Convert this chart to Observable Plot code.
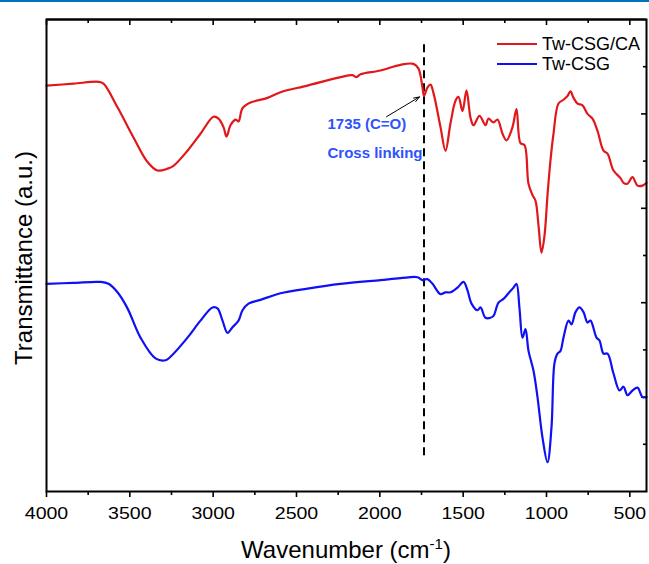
<!DOCTYPE html>
<html><head><meta charset="utf-8">
<script src="https://cdn.jsdelivr.net/npm/d3@7"></script>
<script src="https://cdn.jsdelivr.net/npm/@observablehq/plot@0.6"></script>
<style>
body{margin:0;background:#fff;font-family:"Liberation Sans",Arial,sans-serif;}
</style></head><body>
<script>
// Tw-CSG/CA (red)
const caWn=[4000,3838,3688,3658,3574,3478,3394,3334,3274,3238,3154,3076,2998,2968,2938,2920,2896,2866,2848,2824,2776,2674,2596,2434,2236,2164,2140,2116,1996,1876,1798,1768,1744,1735,1714,1696,1678,1636,1606,1576,1546,1528,1504,1480,1456,1438,1402,1366,1348,1318,1294,1264,1240,1204,1180,1156,1132,1108,1084,1066,1048,1030,1012,994,976,958,928,898,874,856,838,814,784,754,724,694,658,634,598,556,538,514,484,454,424,400];
const caT=[4.30,4.32,4.34,4.32,4.07,3.75,3.49,3.40,3.42,3.45,3.61,3.79,3.97,3.95,3.86,3.76,3.88,3.94,3.92,4.06,4.12,4.17,4.23,4.30,4.39,4.41,4.39,4.42,4.46,4.52,4.53,4.48,4.28,4.19,4.28,4.31,4.22,3.86,3.61,3.90,4.14,4.18,4.03,4.25,3.96,3.88,3.98,3.88,3.95,3.91,3.94,3.79,3.72,3.86,4.05,3.69,3.67,3.26,3.14,3.08,2.82,2.53,2.71,3.14,3.51,3.79,4.11,4.15,4.19,4.24,4.17,4.11,4.09,4.00,3.95,3.82,3.61,3.58,3.40,3.32,3.27,3.26,3.33,3.24,3.24,3.27];
// Tw-CSG (blue)
const csgWn=[4000,3838,3676,3628,3574,3514,3436,3346,3286,3238,3154,3076,3004,2974,2944,2914,2884,2848,2824,2788,2716,2596,2434,2236,1996,1876,1774,1744,1714,1684,1636,1606,1576,1534,1498,1474,1450,1414,1396,1366,1336,1318,1288,1258,1228,1198,1180,1162,1144,1126,1108,1078,1054,1024,994,970,952,934,916,898,868,850,826,802,778,754,736,700,682,658,634,598,562,538,514,484,454,424,400];
const csgT=[2.20,2.21,2.22,2.20,2.11,1.94,1.63,1.41,1.39,1.46,1.63,1.81,1.95,1.94,1.81,1.68,1.74,1.81,1.92,1.99,2.03,2.10,2.15,2.20,2.24,2.26,2.27,2.24,2.25,2.20,2.09,2.11,2.11,2.16,2.22,2.13,1.99,1.92,1.95,1.84,1.84,1.86,2.00,2.04,2.10,2.16,2.20,1.94,1.63,1.72,1.49,1.28,1.00,0.57,0.31,0.68,1.36,1.46,1.49,1.63,1.81,1.77,1.90,1.95,1.90,1.79,1.81,1.63,1.60,1.46,1.46,1.25,1.07,1.11,1.02,1.07,1.10,1.00,1.00];

const seriesNames=["Tw-CSG/CA","Tw-CSG"];
const seriesColors=["#e0181b","#1010f5"];
const xMajor=[4000,3500,3000,2500,2000,1500,1000,500];
const xMinor=[3750,3250,2750,2250,1750,1250,750];
const yMajor=[1,2,3,4];
const yMinor=[0.5,1.5,2.5,3.5,4.5];
const yDomain=[0,5];
const markerWn=[1735];
const markerSpan=[0.38,4.78];
const annText=["1735 (C=O)","Cross linking"];
const annWn=[2314,2314];
const annT=[3.89,3.58];
const arrowFrom=[1960,3.97];
const arrowTo=[1762,4.18];

const ca=caWn.map((w,i)=>({w,t:caT[i]}));
const csg=csgWn.map((w,i)=>({w,t:csgT[i]}));
const ann=annText.map((s,i)=>({s,w:annWn[i],t:annT[i]}));
const FONT="'Liberation Sans',Arial,sans-serif";
const H=564, MT=19, MB=73, FH=H-MT-MB;

const chart=Plot.plot({
  width:649,height:H,
  marginLeft:46,marginRight:3,marginTop:MT,marginBottom:MB,
  x:{domain:[4000,400]},
  y:{domain:yDomain},
  style:{fontFamily:FONT,fontSize:"17px",color:"black",background:"white"},
  marks:[
    Plot.axisX(xMajor,{anchor:"bottom",tickSize:6,tickPadding:9,tickFormat:d=>String(d),label:null,fontSize:17,strokeWidth:1.6}),
    Plot.axisX(xMinor,{anchor:"bottom",tickSize:4,tickFormat:()=>"",label:null,strokeWidth:1.6}),
    Plot.axisY(yMajor,{anchor:"right",tickSize:-6,tickFormat:()=>"",label:null,strokeWidth:1.6}),
    Plot.axisY(yMinor,{anchor:"right",tickSize:-4,tickFormat:()=>"",label:null,strokeWidth:1.6}),
    Plot.ruleX(markerWn,{x:d=>d,y1:markerSpan[0],y2:markerSpan[1],stroke:"black",strokeWidth:2,strokeDasharray:"8,5"}),
    Plot.line(ca,{x:"w",y:"t",stroke:seriesColors[0],strokeWidth:2.2,curve:"catmull-rom"}),
    Plot.line(csg,{x:"w",y:"t",stroke:seriesColors[1],strokeWidth:2.2,curve:"catmull-rom"}),
    Plot.text(ann,{x:"w",y:"t",text:"s",textAnchor:"start",fill:"#2e52ff",fontWeight:"bold",fontSize:15}),
    Plot.arrow([0],{x1:()=>arrowFrom[0],y1:()=>arrowFrom[1],x2:()=>arrowTo[0],y2:()=>arrowTo[1],stroke:"black",strokeWidth:1,headLength:9,headAngle:40}),
    Plot.frame({stroke:"black",strokeWidth:2}),
    Plot.ruleY([yDomain[1]],{y:d=>d,stroke:"black",strokeWidth:2}),
    Plot.tickX(xMajor,{x:d=>d,insetBottom:FH-6,stroke:"black",strokeWidth:1.6}),
    Plot.tickX(xMinor,{x:d=>d,insetBottom:FH-4,stroke:"black",strokeWidth:1.6})
  ]
});
document.body.appendChild(chart);
const svg=d3.select(chart);
// page accent bar at the very top
svg.append("rect").attr("x",0).attr("y",0).attr("width",649).attr("height",2).attr("fill","#0072bc");
// widen tick labels slightly like the reference
svg.selectAll("g[aria-label='x-axis tick label'] text").each(function(){
  const t=this.getAttribute("transform")||"";
  this.setAttribute("transform",t+" scale(1.15,1)");
});
// axis titles
const xt=svg.append("text").attr("x",346).attr("y",558).attr("text-anchor","middle")
  .style("font-size","24px").style("font-family",FONT).attr("fill","black");
xt.append("tspan").text("Wavenumber (cm");
xt.append("tspan").text("-1").attr("dy","-9").style("font-size","15px");
xt.append("tspan").text(")").attr("dy","9");
svg.append("text").attr("transform","translate(32,258) rotate(-90)").attr("text-anchor","middle")
  .style("font-size","24px").style("font-family",FONT).attr("fill","black")
  .text("Transmittance (a.u.)");
// legend
const lg=svg.append("g");
seriesNames.forEach((n,i)=>{
  const yy=44+i*20;
  lg.append("line").attr("x1",497).attr("x2",537).attr("y1",yy).attr("y2",yy).attr("stroke",seriesColors[i]).attr("stroke-width",2.2);
  lg.append("text").attr("x",542).attr("y",yy).attr("dy","0.35em").attr("text-anchor","start").style("font-size","18px")
    .style("font-family",FONT).attr("fill","black").text(n);
});
</script>
</body></html>
